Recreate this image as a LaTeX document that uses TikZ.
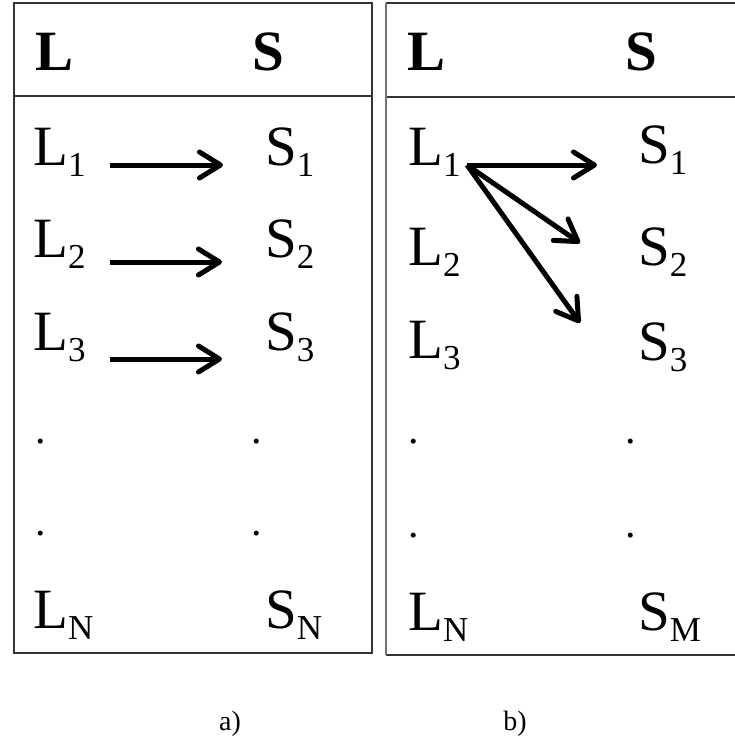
\documentclass[tikz,border=0pt]{standalone}
\usepackage{fontspec}
\setmainfont{Liberation Serif}
\usetikzlibrary{arrows.meta}
\newcommand{\sbs}[1]{\raisebox{-11pt}{\fontsize{35}{35}\selectfont #1}}
\begin{document}
\begin{tikzpicture}[x=1pt,y=-1pt,
  txt/.style={anchor=base west,inner sep=0pt,font=\fontsize{57}{60}\selectfont},
  hdr/.style={anchor=base west,inner sep=0pt,font=\fontsize{57}{60}\selectfont\bfseries},
  dotn/.style={anchor=base,inner sep=0pt,font=\fontsize{42}{44}\selectfont},
  rulea/.style={draw=black!80,line width=1.6pt},
  ruleb/.style={draw=black!55,line width=2.6pt},
  arr/.style={line width=5pt,-{Straight Barb[length=21pt,width=26pt,round]}},
  capn/.style={anchor=base,inner sep=0pt,font=\fontsize{28}{30}\selectfont}]
\useasboundingbox (0,0) rectangle (735,744);
\fill[white] (0,0) rectangle (735,744);
% table a
\draw[rulea] (14,3) rectangle (372,653);
\draw[rulea] (14,96) -- (372,96);
% table b
\draw[rulea] (386,3) -- (735,3);
\draw[rulea] (386,97) -- (735,97);
\draw[rulea] (386,655) -- (735,655);
\draw[ruleb] (386,3) -- (386,655);
% headers
\node[hdr] (hLa) at (35,70) {L};
\node[hdr] (hSa) at (252,70) {S};
\node[hdr] (hLb) at (407,70) {L};
\node[hdr] (hSb) at (625,70) {S};
% table a rows
\node[txt] (La1) at (33,165) {L\sbs{1}};
\node[txt] (La2) at (33,257) {L\sbs{2}};
\node[txt] (La3) at (33,350) {L\sbs{3}};
\node[txt] (LaN) at (33,628) {L\sbs{N}};
\node[txt] (Sa1) at (265,165) {S\sbs{1}};
\node[txt] (Sa2) at (265,257) {S\sbs{2}};
\node[txt] (Sa3) at (265,350) {S\sbs{3}};
\node[txt] (SaN) at (265,628) {S\sbs{N}};
\node[dotn] (da1) at (41,443) {.};
\node[dotn] (da2) at (257,443) {.};
\node[dotn] (da3) at (41,535) {.};
\node[dotn] (da4) at (257,535) {.};
% table b rows
\node[txt] (Lb1) at (408,165) {L\sbs{1}};
\node[txt] (Lb2) at (408,265) {L\sbs{2}};
\node[txt] (Lb3) at (408,358) {L\sbs{3}};
\node[txt] (LbN) at (408,630) {L\sbs{N}};
\node[txt] (Sb1) at (638,163) {S\sbs{1}};
\node[txt] (Sb2) at (638,265) {S\sbs{2}};
\node[txt] (Sb3) at (638,360) {S\sbs{3}};
\node[txt] (SbM) at (638,630) {S\sbs{M}};
\node[dotn] (db1) at (414,443) {.};
\node[dotn] (db2) at (631,443) {.};
\node[dotn] (db3) at (414,537) {.};
\node[dotn] (db4) at (631,537) {.};
% arrows a
\coordinate (a1s) at (110,165); \coordinate (a1e) at (223,165);
\coordinate (a2s) at (110,262); \coordinate (a2e) at (222,262);
\coordinate (a3s) at (110,359); \coordinate (a3e) at (222,359);
\draw[arr] (a1s) -- (a1e);
\draw[arr] (a2s) -- (a2e);
\draw[arr] (a3s) -- (a3e);
% arrows b
\coordinate (b0) at (467,165);
\coordinate (b1) at (597,165);
\coordinate (b2) at (580,243);
\coordinate (b3) at (580,323);
\draw[arr] (b0) -- (b1);
\draw[arr] (b0) -- (b2);
\draw[arr] (b0) -- (b3);
% captions
\node[capn] (ca) at (230,730) {a)};
\node[capn] (cb) at (515,730) {b)};
\end{tikzpicture}
\end{document}
